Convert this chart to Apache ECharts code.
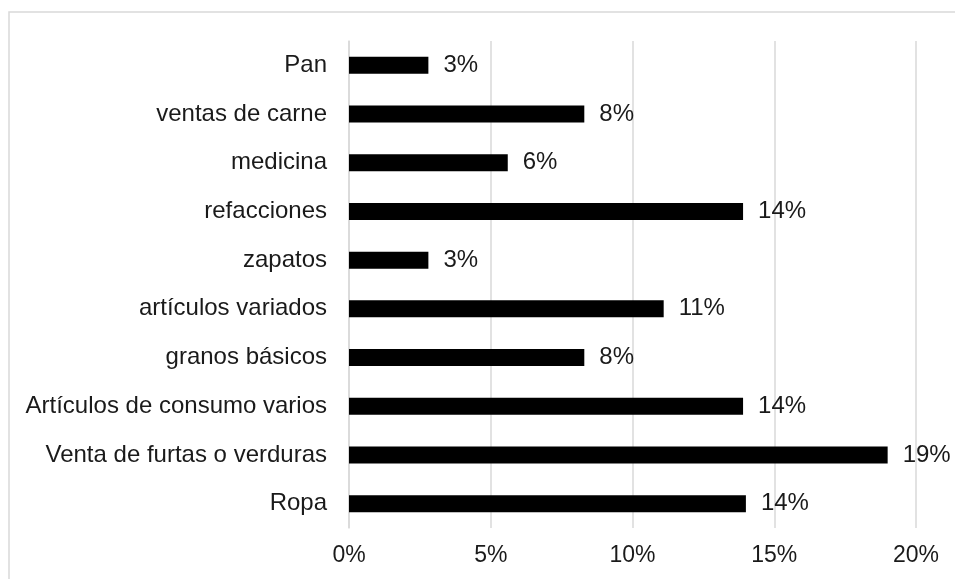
<!DOCTYPE html>
<html>
<head>
<meta charset="utf-8">
<script src="https://cdn.jsdelivr.net/npm/echarts@6/dist/echarts.min.js"></script>
<style>
  html, body { margin: 0; padding: 0; background: #fff; }
  #chart { width: 955px; height: 579px; }
</style>
</head>
<body>
<div id="chart"></div>
<script>
// Categories listed bottom to top (category axis starts at the bottom)
const categories = [
  'Ropa',
  'Venta de furtas o verduras',
  'Artículos de consumo varios',
  'granos básicos',
  'artículos variados',
  'zapatos',
  'refacciones',
  'medicina',
  'ventas de carne',
  'Pan'
];
// Share of each activity, in percent
const shares = [14.0, 19.0, 13.9, 8.3, 11.1, 2.8, 13.9, 5.6, 8.3, 2.8];
const axisTicks = [0, 5, 10, 15, 20];

const chart = echarts.init(document.getElementById('chart'));
const textColor = '#1a1a1a';
const font = 'Liberation Sans, Arial, sans-serif';

chart.setOption({
  animation: false,
  backgroundColor: '#ffffff',
  graphic: [{
    type: 'rect',
    shape: { x: 9, y: 12, width: 1000, height: 700 },
    style: { fill: 'none', stroke: '#d9d9d9', lineWidth: 1.5 },
    silent: true
  }],
  grid: { left: 349, right: 39, top: 41, bottom: 51 },
  xAxis: {
    type: 'value',
    min: axisTicks[0],
    max: axisTicks[axisTicks.length - 1],
    interval: axisTicks[1] - axisTicks[0],
    axisLine: { show: false },
    axisTick: { show: false },
    splitLine: { show: true, lineStyle: { color: '#d9d9d9', width: 1.5 } },
    axisLabel: {
      formatter: v => v + '%',
      color: textColor,
      fontFamily: font,
      fontSize: 23,
      margin: 16
    }
  },
  yAxis: {
    type: 'category',
    data: categories,
    axisLine: { show: true, lineStyle: { color: '#d9d9d9', width: 1.5 } },
    axisTick: { show: false },
    axisLabel: {
      color: textColor,
      fontFamily: font,
      fontSize: 24,
      margin: 22
    }
  },
  series: [{
    type: 'bar',
    data: shares,
    barWidth: 17,
    itemStyle: { color: '#000000' },
    label: {
      show: true,
      position: 'right',
      distance: 15,
      formatter: p => Math.round(p.value) + '%',
      color: textColor,
      fontFamily: font,
      fontSize: 24
    }
  }]
});
</script>
</body>
</html>
